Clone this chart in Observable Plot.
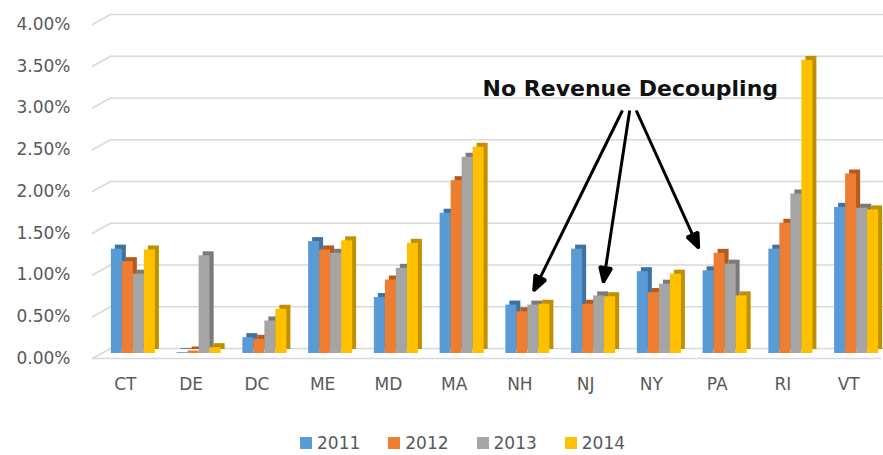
<!DOCTYPE html>
<html><head><meta charset="utf-8">
<script src="https://cdn.jsdelivr.net/npm/d3@7"></script>
<script src="https://cdn.jsdelivr.net/npm/@observablehq/plot@0.6"></script>
<style>
body{margin:0;background:#fff;font-family:"DejaVu Sans",sans-serif;}
#legend{display:flex;gap:28px;padding-left:300px;margin-top:12px;height:22px;align-items:center;font-size:17px;color:#595959}
.item{display:flex;align-items:center}
.sw{width:12px;height:12px;margin-right:5px}
</style></head><body><div id="chart"></div><div id="legend"></div>
<script>
const states = ["CT","DE","DC","ME","MD","MA","NH","NJ","NY","PA","RI","VT"];
const years = ["2011","2012","2013","2014"];
const v2011 = [1.25,0.01,0.19,1.34,0.67,1.68,0.58,1.25,0.98,0.99,1.25,1.75];
const v2012 = [1.10,0.03,0.17,1.24,0.88,2.07,0.50,0.59,0.73,1.20,1.56,2.15];
const v2013 = [0.95,1.17,0.39,1.20,1.02,2.35,0.58,0.69,0.83,1.07,1.91,1.74];
const v2014 = [1.24,0.07,0.53,1.35,1.32,2.47,0.59,0.68,0.95,0.69,3.51,1.72];
const yTicks = [0,0.5,1,1.5,2,2.5,3,3.5,4];
const noteLabel = ["No Revenue Decoupling"];
const noteTextPos = {x: 7.68, y: 3.23};
const arrowStartX = [7.56, 7.67, 7.77];
const arrowStartY = [2.97, 2.97, 2.97];
const arrowEndX = [6.21, 7.27, 8.72];
const arrowEndY = [0.81, 0.91, 1.32];

const colors = ["#5B9BD5","#ED7D31","#A5A5A5","#FFC000"];
const sideColors = ["#3E72A3","#B35A1F","#7A7A7A","#BF9000"];
const series = [v2011, v2012, v2013, v2014];

const rows = [];
states.forEach((s, i) => years.forEach((y, j) => rows.push({state: s, si: i, year: y, yi: j, value: series[j][i]})));
const notes = noteLabel.map(t => ({label: t, x: noteTextPos.x, y: noteTextPos.y}));
const arrows = arrowStartX.map((x, k) => ({x1: x, y1: arrowStartY[k], x2: arrowEndX[k], y2: arrowEndY[k]}));

const groupW = 0.67, bw = groupW / 4;
const X1 = d => d.si - groupW / 2 + d.yi * bw;
const X2 = d => X1(d) + bw;

const marks = [
  Plot.ruleY(yTicks, {dx: 18, dy: -10, stroke: "#d9d9d9", strokeWidth: 1.5}),
  Plot.vector(yTicks, {y: d => d, frameAnchor: "left", anchor: "start", length: 20.6, rotate: 60.9,
    stroke: "#d9d9d9", strokeWidth: 1.5,
    shape: {draw(ctx, l) { ctx.moveTo(0, 0); ctx.lineTo(0, -l); }}}),
  Plot.ruleY([0], {stroke: "#d9d9d9", strokeWidth: 1.5})
];
years.forEach((yr, j) => {
  const data = rows.filter(d => d.yi === j);
  marks.push(Plot.rect(data, {x1: X1, x2: X2, y1: 0, y2: "value", fill: sideColors[j], dx: 12, dy: -9}));
  marks.push(Plot.rect(data, {x1: X1, x2: X2, y1: 0, y2: "value", fill: colors[j], dx: 8, dy: -5}));
});
marks.push(Plot.link(arrows, {x1: "x1", y1: "y1", x2: "x2", y2: "y2", stroke: "#000", strokeWidth: 3}));
marks.push(Plot.text(notes, {x: "x", y: "y", text: "label", fontSize: 22, fontWeight: "bold", fill: "#111", fontFamily: "DejaVu Sans"}));

const chart = Plot.plot({
  width: 883, height: 420,
  marginLeft: 92, marginRight: 2, marginTop: 24, marginBottom: 62,
  style: {fontFamily: "DejaVu Sans", fontSize: "17px", color: "#595959", background: "#fff"},
  x: {type: "linear", domain: [-0.5, 11.5], ticks: d3.range(states.length), tickFormat: i => states[i], tickSize: 0, tickPadding: 19, label: null},
  y: {domain: [0, 4], ticks: yTicks, tickFormat: d => d.toFixed(2) + "%", tickSize: 0, tickPadding: 22, label: null},
  marks
});
document.getElementById("chart").appendChild(chart);

// filled arrowheads: each annotation link path gets a closed triangle at its end (positions from Plot's scales)
const xs = chart.scale("x"), ys = chart.scale("y");
const headLen = 15, headHalf = 6;
const paths = chart.querySelectorAll('g[aria-label="link"] path');
paths.forEach((p, k) => {
  const a = arrows[k];
  if (!a) return;
  const px1 = xs.apply(a.x1), py1 = ys.apply(a.y1), px2 = xs.apply(a.x2), py2 = ys.apply(a.y2);
  const dx = px2 - px1, dy = py2 - py1, L = Math.hypot(dx, dy);
  const ux = dx / L, uy = dy / L;
  const bx = px2 - ux * headLen, by = py2 - uy * headLen;
  const d = `M${px1},${py1}L${bx},${by}` +
    `M${px2},${py2}L${bx - uy * headHalf},${by + ux * headHalf}L${bx + uy * headHalf},${by - ux * headHalf}Z`;
  p.setAttribute("d", d);
  p.setAttribute("fill", "#000");
  p.setAttribute("stroke-linejoin", "miter");
});

const legend = document.getElementById("legend");
years.forEach((y, j) => {
  const it = document.createElement("div"); it.className = "item";
  const sw = document.createElement("div"); sw.className = "sw"; sw.style.background = colors[j];
  const tx = document.createElement("span"); tx.textContent = y;
  it.appendChild(sw); it.appendChild(tx); legend.appendChild(it);
});
</script></body></html>
